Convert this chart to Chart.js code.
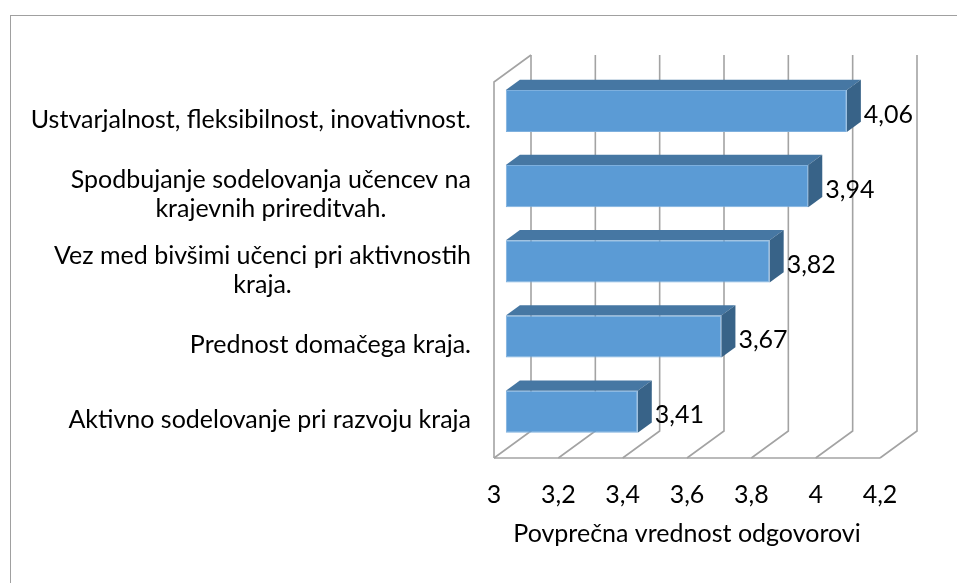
<!DOCTYPE html>
<html>
<head>
<meta charset="utf-8">
<script src="https://cdn.jsdelivr.net/npm/chart.js@4.4.0/dist/chart.umd.min.js"></script>
<style>
  html, body { margin: 0; padding: 0; background: #fff; }
  canvas { display: block; }
</style>
</head>
<body>
<canvas id="chart" width="957" height="583"></canvas>
<script>
// data
const categories = [
  ['Ustvarjalnost, fleksibilnost, inovativnost.'],
  ['Spodbujanje sodelovanja učencev na', 'krajevnih prireditvah.'],
  ['Vez med bivšimi učenci pri aktivnostih', 'kraja.'],
  ['Prednost domačega kraja.'],
  ['Aktivno sodelovanje pri razvoju kraja']
];
const values = [4.06, 3.94, 3.82, 3.67, 3.41];
const xTickLabels = ['3', '3,2', '3,4', '3,6', '3,8', '4', '4,2'];
const xTitle = 'Povprečna vrednost odgovorovi';

const FONT = 'Lato, Carlito, Calibri, sans-serif';
const FONT_SIZE = 25;
const depth = { dx: 37, dy: -27 };   // wall depth
const barNear = 0.32, barFar = 0.70;  // bar depth inside the box
const GRID = '#a3a3a3';

function fmt(v){ return v.toFixed(2).replace('.', ','); }

const box3d = {
  id: 'box3d',
  beforeDraw(chart){
    const ctx = chart.ctx;
    ctx.save();
    ctx.strokeStyle = '#a0a0a0';
    ctx.lineWidth = 1;
    ctx.strokeRect(10.5, 15.5, 1200, 1200);
    ctx.restore();
  },
  beforeDatasetsDraw(chart){
    const { ctx, chartArea: a, scales: { x } } = chart;
    ctx.save();
    ctx.strokeStyle = GRID;
    ctx.lineWidth = 1.6;
    // left wall: front edge + top edge
    ctx.beginPath();
    ctx.moveTo(a.left, a.bottom);
    ctx.lineTo(a.left, a.top);
    ctx.lineTo(a.left + depth.dx, a.top + depth.dy);
    ctx.stroke();
    // floor front edge
    ctx.beginPath();
    ctx.moveTo(a.left, a.bottom);
    ctx.lineTo(a.right, a.bottom);
    ctx.stroke();
    // back wall gridlines and floor diagonals
    x.ticks.forEach(t => {
      const px = x.getPixelForValue(t.value);
      ctx.beginPath();
      ctx.moveTo(px + depth.dx, a.top + depth.dy);
      ctx.lineTo(px + depth.dx, a.bottom + depth.dy);
      ctx.lineTo(px, a.bottom);
      ctx.stroke();
    });
    // top and side faces of the bars
    const meta = chart.getDatasetMeta(0);
    const fx = depth.dx * barNear, fy = depth.dy * barNear;
    const bx = depth.dx * barFar, by = depth.dy * barFar;
    meta.data.forEach(el => {
      const x0 = el.base, x1 = el.x;
      const yT = el.y - el.height / 2, yB = el.y + el.height / 2;
      ctx.fillStyle = '#4677a3';
      ctx.beginPath();
      ctx.moveTo(x0 + fx, yT + fy);
      ctx.lineTo(x1 + fx, yT + fy);
      ctx.lineTo(x1 + bx, yT + by);
      ctx.lineTo(x0 + bx, yT + by);
      ctx.closePath();
      ctx.fill();
      ctx.fillStyle = '#386388';
      ctx.beginPath();
      ctx.moveTo(x1 + fx, yT + fy);
      ctx.lineTo(x1 + bx, yT + by);
      ctx.lineTo(x1 + bx, yB + by);
      ctx.lineTo(x1 + fx, yB + fy);
      ctx.closePath();
      ctx.fill();
    });
    ctx.restore();
  },
  beforeDatasetDraw(chart){
    chart.ctx.save();
    chart.ctx.translate(depth.dx * barNear, depth.dy * barNear);
  },
  afterDatasetDraw(chart){
    chart.ctx.restore();
  },
  afterDatasetsDraw(chart){
    const ctx = chart.ctx;
    const meta = chart.getDatasetMeta(0);
    const bx = depth.dx * barFar;
    ctx.save();
    ctx.font = FONT_SIZE + 'px ' + FONT;
    ctx.fillStyle = '#000';
    ctx.textAlign = 'left';
    ctx.textBaseline = 'middle';
    meta.data.forEach((el, i) => {
      ctx.fillText(fmt(values[i]), el.x + bx + 3, el.y - 5);
    });
    ctx.restore();
  },
  afterDraw(chart){
    const { ctx, scales: { y } } = chart;
    const right = 471, lh = 29;
    ctx.save();
    ctx.font = FONT_SIZE + 'px ' + FONT;
    ctx.fillStyle = '#000';
    ctx.textAlign = 'center';
    ctx.textBaseline = 'middle';
    categories.forEach((lines, i) => {
      const cy = y.getPixelForValue(i);
      const w = Math.max(...lines.map(s => ctx.measureText(s).width));
      const cx = right - w / 2;
      const y0 = cy - (lines.length - 1) * lh / 2;
      lines.forEach((s, k) => ctx.fillText(s, cx, y0 + k * lh));
    });
    ctx.restore();
  }
};

new Chart(document.getElementById('chart'), {
  type: 'bar',
  data: {
    labels: categories.map(c => c.join(' ')),
    datasets: [{
      data: values,
      base: 3,
      backgroundColor: '#5b9bd5',
      borderColor: '#7eb0de',
      borderWidth: 1,
      borderSkipped: false,
      categoryPercentage: 1,
      barPercentage: 0.56,
      clip: false
    }]
  },
  options: {
    indexAxis: 'y',
    responsive: false,
    animation: false,
    layout: { padding: { left: 494, right: 77, top: 82, bottom: 0 } },
    plugins: { legend: { display: false }, tooltip: { enabled: false } },
    scales: {
      y: { display: false },
      x: {
        min: 3,
        max: 4.2,
        grid: { display: false },
        border: { display: false },
        ticks: {
          stepSize: 0.2,
          padding: 14,
          color: '#000',
          font: { family: FONT, size: FONT_SIZE },
          maxRotation: 0,
          autoSkip: false,
          callback: (v, i) => xTickLabels[i]
        },
        title: {
          display: true,
          text: xTitle,
          color: '#000',
          font: { family: FONT, size: FONT_SIZE },
          padding: { top: 0, bottom: 34 }
        },
        afterFit(scale){ scale.height = 125; }
      }
    }
  },
  plugins: [box3d]
});
</script>
</body>
</html>
